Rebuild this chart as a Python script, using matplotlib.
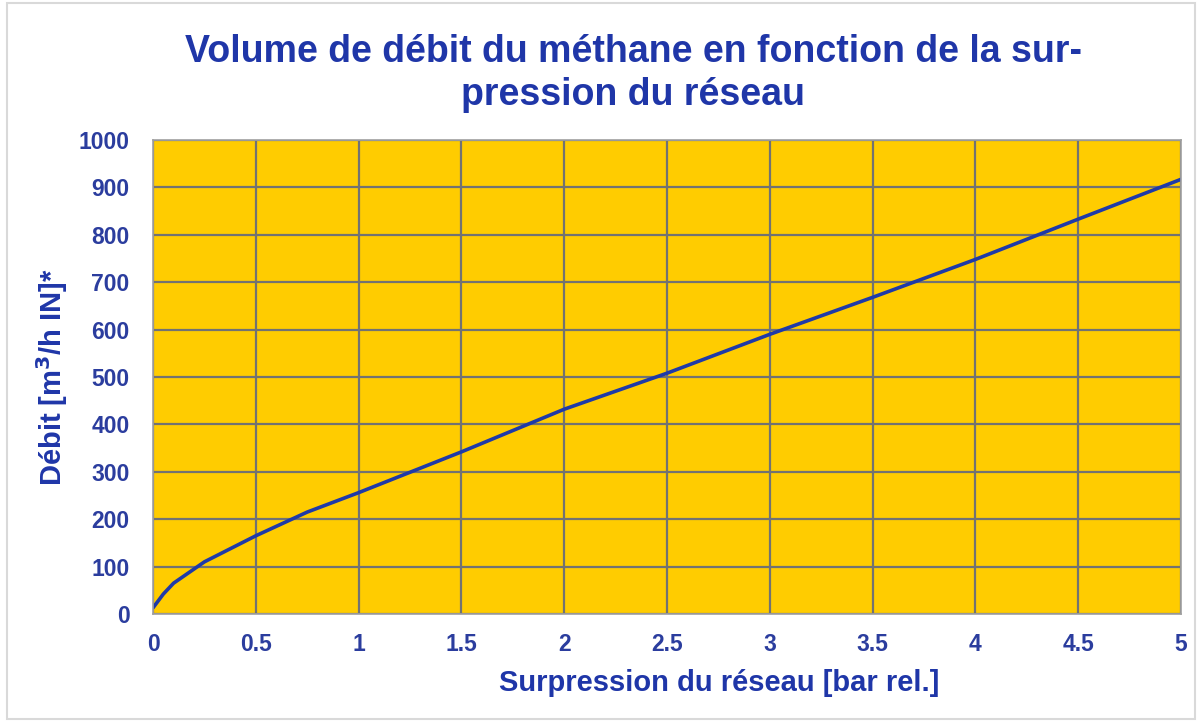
import numpy as np
import matplotlib
matplotlib.use("Agg")
import matplotlib.pyplot as plt
from matplotlib.patches import Rectangle

# pression (bar rel.) / debit (m3/h)
pression = [0, 0.05, 0.1, 0.25, 0.5, 0.75, 1, 1.5, 2, 2.5, 3, 3.5, 4, 4.5, 5]
debit = [13, 42, 65, 110, 165, 215, 256, 342, 432, 508, 590, 668, 748, 833, 917]

xticks = [0, 0.5, 1, 1.5, 2, 2.5, 3, 3.5, 4, 4.5, 5]
xlabels = ["0", "0.5", "1", "1.5", "2", "2.5", "3", "3.5", "4", "4.5", "5"]
yticks = list(range(0, 1001, 100))

blue = "#1f36a8"
tickblue = "#2b3d9e"

plt.rcParams['font.family'] = ['Liberation Sans', 'DejaVu Sans']

fig = plt.figure(figsize=(12.02, 7.22), dpi=100)
fig.patches.append(Rectangle((0.006, 0.004), 0.988, 0.992, transform=fig.transFigure,
                             fill=False, edgecolor="#d9d9d9", linewidth=1.5))

ax = fig.add_axes([0.1273, 0.1496, 0.8552, 0.6565])
ax.set_facecolor("#ffcc00")
ax.plot(pression, debit, color="#1f3aa8", linewidth=2.6, solid_capstyle="round")

ax.set_xlim(0, 5)
ax.set_ylim(0, 1000)
ax.set_xticks(xticks)
ax.set_xticklabels(xlabels)
ax.set_yticks(yticks)
ax.grid(True, color="#727272", linewidth=1.6)
ax.set_axisbelow(True)
ax.tick_params(length=0, labelsize=16.5, labelcolor=tickblue)
ax.tick_params(axis="x", pad=14)
ax.tick_params(axis="y", pad=17)
for lab in ax.get_xticklabels() + ax.get_yticklabels():
    lab.set_fontweight("bold")
for s in ax.spines.values():
    s.set_color("#a0a0a0")
    s.set_linewidth(1.2)

fig.text(0.598, 1 - 683 / 722, "Surpression du réseau [bar rel.]", fontsize=21,
         fontweight="bold", color=blue, ha="center", va="center")
fig.text(52 / 1202, 1 - 377 / 722, "Débit [m$^\\mathbf{3}$/h IN]*", fontsize=21,
         fontweight="bold", color=blue, ha="center", va="center", rotation=90)

fig.text(0.527, 0.928, "Volume de débit du méthane en fonction de la sur-",
         ha="center", va="center", fontsize=27, fontweight="bold", color=blue)
fig.text(0.527, 0.868, "pression du réseau",
         ha="center", va="center", fontsize=27, fontweight="bold", color=blue)

fig.savefig("out.png", dpi=100)
